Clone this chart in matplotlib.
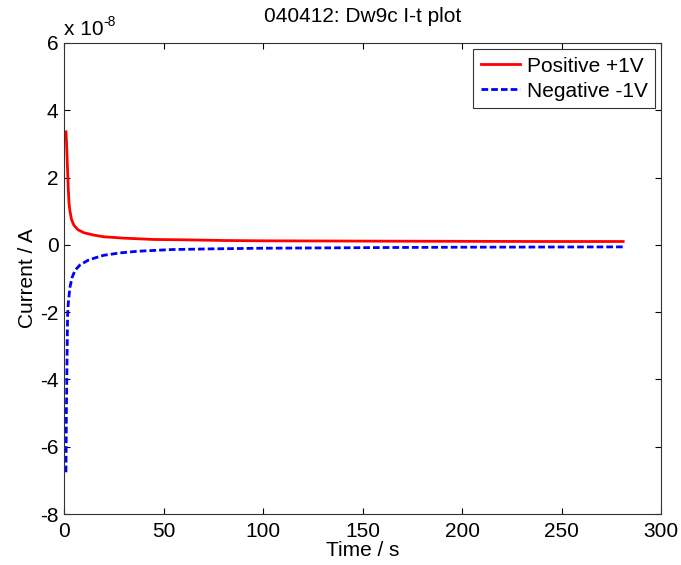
import matplotlib
matplotlib.use("Agg")
import matplotlib.pyplot as plt
from matplotlib.ticker import FuncFormatter

plt.rcParams['font.family'] = ['Liberation Sans', 'DejaVu Sans']

# data (current in units of 1e-8 A)
t_pos = [1.0, 1.3, 1.8, 2.2, 2.5, 3.0, 3.8, 5, 7, 10, 15, 20, 30, 45, 60, 80, 100, 130, 160, 200, 240, 281]
i_pos = [3.36, 3.0, 2.2, 1.6, 1.25, 1.0, 0.75, 0.58, 0.45, 0.36, 0.29, 0.24, 0.20, 0.16, 0.15, 0.13, 0.12, 0.115, 0.11, 0.105, 0.10, 0.10]
t_neg = [1.0, 1.2, 1.5, 1.8, 2.2, 3.0, 4, 5.5, 8, 12, 16, 20, 28, 37, 54, 73, 100, 130, 160, 200, 240, 281]
i_neg = [-6.76, -5.0, -3.5, -2.1, -1.7, -1.26, -0.98, -0.76, -0.6, -0.46, -0.38, -0.31, -0.24, -0.19, -0.14, -0.12, -0.10, -0.09, -0.08, -0.07, -0.065, -0.06]
scale = 1e-8
xticks = [0, 50, 100, 150, 200, 250, 300]
yticks = [-8, -6, -4, -2, 0, 2, 4, 6]

FS = 15

fig = plt.figure(figsize=(6.81, 5.65), dpi=100)
ax = fig.add_axes([64/681, 1-514/565, (661-64)/681, (514-43)/565])

ax.plot(t_pos, [v*scale for v in i_pos], color='red', lw=2, label='Positive +1V')
ax.plot(t_neg, [v*scale for v in i_neg], color='blue', lw=2, ls=(0, (2.4, 1.1)), label='Negative -1V')

ax.set_xlim(0, 300)
ax.set_ylim(-8*scale, 6*scale)
ax.set_xticks(xticks)
ax.set_yticks([y*scale for y in yticks])
ax.yaxis.set_major_formatter(FuncFormatter(lambda v, p: f"{v/scale:.0f}"))
ax.tick_params(direction='in', top=True, right=True, length=4, width=0.8, labelsize=FS)
ax.tick_params(axis='x', pad=6)
ax.tick_params(axis='y', pad=4)
for s in ax.spines.values():
    s.set_linewidth(0.8)
    s.set_color('#333333')

ax.set_xlabel('Time / s', fontsize=FS, labelpad=0)
ax.set_ylabel('Current / A', fontsize=FS, labelpad=2)
ax.set_title('040412: Dw9c I-t plot', fontsize=FS, pad=15)
t1 = ax.text(0.0, 1.008, 'x 10', transform=ax.transAxes, fontsize=FS, ha='left', va='bottom')
ax.annotate('-8', xy=(1.0, 0.55), xycoords=t1, fontsize=10, ha='left', va='bottom')

leg = ax.legend(loc='upper right', fontsize=FS, fancybox=False, framealpha=1, edgecolor='#333333',
                borderaxespad=0.3, handlelength=1.9, handletextpad=0.3, borderpad=0.35, labelspacing=0.3)
leg.get_frame().set_linewidth(0.8)

fig.savefig('out.png', dpi=100)
